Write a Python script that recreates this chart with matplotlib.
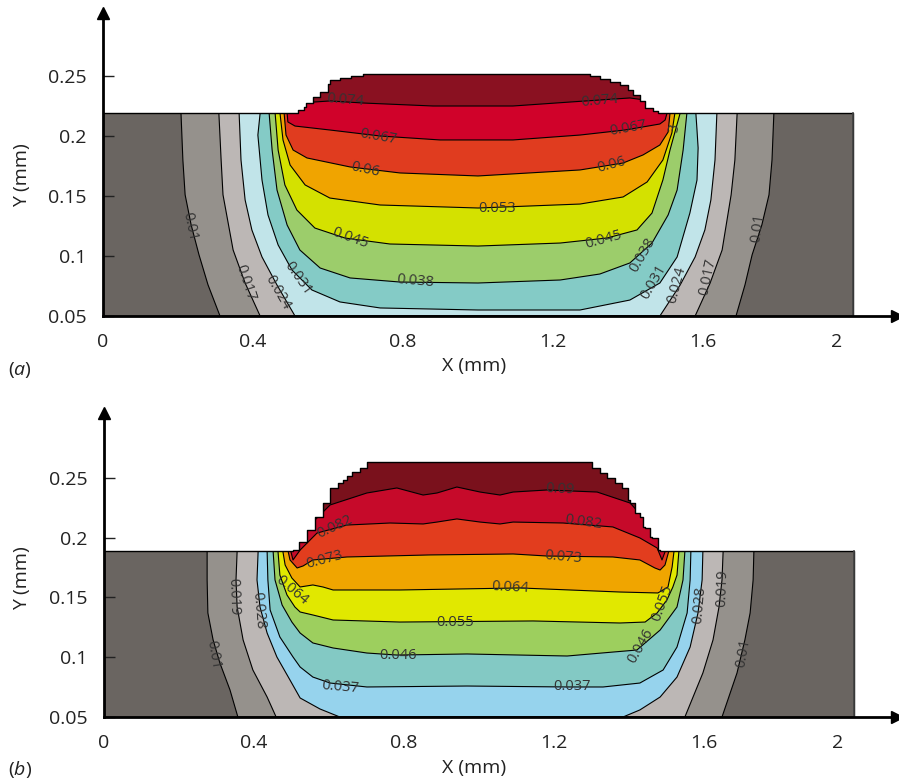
import numpy as np
import matplotlib.pyplot as plt
from matplotlib.patches import Polygon

plt.rcParams['font.family'] = ['Open Sans', 'DejaVu Sans']
plt.rcParams['mathtext.fontset'] = 'custom'
plt.rcParams['mathtext.it'] = 'Open Sans:italic'
plt.rcParams['mathtext.rm'] = 'Open Sans'

# ---------------- panel (a) ----------------
a_levels = [0.01, 0.017, 0.024, 0.031, 0.038, 0.045, 0.053, 0.06, 0.067, 0.074]
a_colors = ['#6a6561', '#95918c', '#bcb7b5', '#c1e4e9', '#84cbc6', '#9ccd6b',
            '#d4e100', '#f0a400', '#e03c1f', '#d0022a', '#8a1121']
a_surface = 0.219
a_bead_x = [0.52, 0.52, 0.536, 0.536, 0.541, 0.541, 0.56, 0.56, 0.579, 0.579, 0.6, 0.6,
            0.605, 0.605, 0.632, 0.632, 0.66, 0.66, 0.693, 0.693,
            1.299, 1.299, 1.325, 1.325, 1.352, 1.352, 1.379, 1.379, 1.4, 1.4, 1.413, 1.413,
            1.432, 1.432, 1.445, 1.445, 1.467, 1.467, 1.48, 1.48]
a_bead_y = [0.219, 0.2217, 0.2217, 0.2242, 0.2242, 0.2275, 0.2275, 0.2325, 0.2325, 0.2367, 0.2367, 0.2433,
            0.2433, 0.2467, 0.2467, 0.2483, 0.2483, 0.25, 0.25, 0.2517,
            0.2517, 0.25, 0.25, 0.2475, 0.2475, 0.245, 0.245, 0.2425, 0.2425, 0.2383, 0.2383, 0.2342,
            0.2342, 0.2292, 0.2292, 0.2233, 0.2233, 0.2208, 0.2208, 0.219]
a_cx = [
    [0.208, 0.213, 0.219, 0.235, 0.256, 0.28, 0.312, 1.688, 1.712, 1.731, 1.757, 1.776, 1.784, 1.789],
    [0.309, 0.315, 0.32, 0.347, 0.379, 0.419, 1.579, 1.619, 1.651, 1.675, 1.685, 1.691],
    [0.363, 0.368, 0.379, 0.397, 0.424, 0.464, 0.512, 1.485, 1.539, 1.579, 1.605, 1.621, 1.632, 1.637],
    [0.419, 0.413, 0.424, 0.44, 0.467, 0.504, 0.557, 0.632, 0.739, 1.0, 1.272, 1.405, 1.485, 1.531,
     1.565, 1.584, 1.587, 1.584, 1.581],
    [0.443, 0.451, 0.464, 0.491, 0.525, 0.579, 0.659, 0.792, 1.0, 1.219, 1.325, 1.405, 1.464, 1.507,
     1.531, 1.547, 1.557],
    [0.459, 0.467, 0.485, 0.517, 0.565, 0.645, 0.765, 1.0, 1.219, 1.344, 1.424, 1.464, 1.493, 1.512, 1.539],
    [0.472, 0.48, 0.499, 0.539, 0.605, 0.739, 1.0, 1.272, 1.387, 1.451, 1.493, 1.517, 1.525],
    [0.483, 0.488, 0.507, 0.544, 0.659, 0.792, 1.0, 1.272, 1.387, 1.44, 1.485, 1.507, 1.512],
    [0.491, 0.493, 0.512, 0.605, 0.739, 0.899, 1.093, 1.272, 1.392, 1.485, 1.499, 1.504],
    [0.525, 0.605, 0.693, 0.88, 1.093, 1.245, 1.405, 1.445],
]
a_cy = [
    [0.219, 0.18, 0.151, 0.126, 0.101, 0.076, 0.05, 0.05, 0.076, 0.101, 0.126, 0.151, 0.18, 0.219],
    [0.219, 0.18, 0.151, 0.105, 0.0775, 0.05, 0.05, 0.0775, 0.105, 0.151, 0.18, 0.219],
    [0.219, 0.18, 0.1467, 0.1217, 0.0992, 0.0758, 0.05, 0.05, 0.0758, 0.0992, 0.1217, 0.1467, 0.18, 0.219],
    [0.219, 0.2008, 0.1633, 0.1342, 0.1092, 0.0883, 0.0717, 0.0617, 0.0567, 0.055, 0.055, 0.0633, 0.0775,
     0.0992, 0.1358, 0.1633, 0.19, 0.205, 0.219],
    [0.219, 0.1883, 0.155, 0.1258, 0.105, 0.09, 0.0817, 0.0783, 0.0775, 0.08, 0.085, 0.0942, 0.1108, 0.1342,
     0.155, 0.1883, 0.219],
    [0.219, 0.1883, 0.1592, 0.1383, 0.1233, 0.115, 0.11, 0.1083, 0.1108, 0.115, 0.1217, 0.1358, 0.1633,
     0.1883, 0.219],
    [0.219, 0.1967, 0.1758, 0.1592, 0.1483, 0.1425, 0.14, 0.1433, 0.1492, 0.1617, 0.18, 0.2025, 0.219],
    [0.219, 0.2008, 0.1883, 0.1817, 0.1742, 0.1692, 0.1667, 0.1717, 0.1775, 0.1842, 0.1925, 0.2033, 0.219],
    [0.219, 0.2117, 0.2083, 0.205, 0.2, 0.1967, 0.1967, 0.2008, 0.205, 0.21, 0.2133, 0.219],
    [0.2275, 0.2292, 0.2275, 0.225, 0.225, 0.2283, 0.2317, 0.23],
]
a_lab_txt = ['0.074', '0.074', '0.067', '0.067', '0.06', '0.06', '0.053', '3', '0.045', '0.045',
             '0.038', '0.038', '0.031', '0.031', '0.024', '0.024', '0.017', '0.017', '0.01', '0.01']
a_lab_x = [0.645, 1.325, 0.733, 1.4, 0.699, 1.357, 1.051, 1.523, 0.659, 1.336,
           0.832, 1.44, 0.52, 1.467, 0.467, 1.531, 0.379, 1.613, 0.232, 1.747]
a_lab_y = [0.23, 0.2292, 0.1992, 0.2067, 0.1717, 0.1758, 0.14, 0.2067, 0.115, 0.1133,
           0.0792, 0.1008, 0.0817, 0.0783, 0.0692, 0.0758, 0.0775, 0.0825, 0.1242, 0.1233]
a_lab_rot = [-5, 5, -10, 10, -12, 15, 0, 80, -20, 15,
             -5, 60, -55, 60, -60, 75, -72, 78, -78, 82]

# ---------------- panel (b) ----------------
b_levels = [0.01, 0.019, 0.028, 0.037, 0.046, 0.055, 0.064, 0.073, 0.082, 0.09]
b_colors = ['#6a6561', '#95918c', '#bcb7b5', '#96d3ed', '#83c9c4', '#9dcf5e',
            '#e1e800', '#f0a500', '#e23d1e', '#c60a2a', '#7a111c']
b_surface = 0.1885
b_bead_x = [0.504, 0.504, 0.52, 0.52, 0.541, 0.541, 0.563, 0.563, 0.584, 0.584, 0.603, 0.603,
            0.624, 0.624, 0.637, 0.637, 0.648, 0.648, 0.661, 0.661, 0.683, 0.683, 0.701, 0.701,
            1.301, 1.301, 1.323, 1.323, 1.341, 1.341, 1.363, 1.363, 1.381, 1.381, 1.397, 1.397,
            1.403, 1.403, 1.416, 1.416, 1.429, 1.429, 1.437, 1.437, 1.443, 1.443, 1.456, 1.456,
            1.461, 1.461, 1.477, 1.477, 1.483, 1.483]
b_bead_y = [0.1885, 0.1896, 0.1896, 0.1963, 0.1963, 0.2064, 0.2064, 0.2172, 0.2172, 0.2289, 0.2289, 0.2415,
            0.2415, 0.2457, 0.2457, 0.2482, 0.2482, 0.2515, 0.2515, 0.2549, 0.2549, 0.2582, 0.2582, 0.2632,
            0.2632, 0.2582, 0.2582, 0.254, 0.254, 0.2498, 0.2498, 0.2457, 0.2457, 0.2415, 0.2415, 0.2314,
            0.2314, 0.2289, 0.2289, 0.2206, 0.2206, 0.2172, 0.2172, 0.2089, 0.2089, 0.208, 0.208, 0.2005,
            0.2005, 0.1997, 0.1997, 0.1896, 0.1896, 0.1885]
b_cx = [
    [0.275, 0.275, 0.277, 0.291, 0.309, 0.336, 0.357, 1.648, 1.688, 1.709, 1.723, 1.731, 1.733],
    [0.355, 0.352, 0.355, 0.371, 0.397, 0.435, 0.459, 1.549, 1.597, 1.624, 1.64, 1.648, 1.651],
    [0.411, 0.408, 0.416, 0.435, 0.461, 0.496, 0.523, 0.576, 0.629, 1.384, 1.429, 1.483, 1.528, 1.563,
     1.584, 1.595, 1.597],
    [0.435, 0.437, 0.443, 0.469, 0.504, 0.523, 0.557, 0.603, 0.701, 0.968, 1.235, 1.331, 1.429, 1.491,
     1.528, 1.555, 1.563, 1.565],
    [0.451, 0.456, 0.475, 0.501, 0.523, 0.557, 0.611, 0.701, 0.781, 0.968, 1.235, 1.357, 1.421, 1.483,
     1.528, 1.544, 1.549],
    [0.464, 0.469, 0.488, 0.509, 0.523, 0.557, 0.611, 0.789, 1.144, 1.376, 1.443, 1.475, 1.501, 1.517,
     1.528, 1.533],
    [0.477, 0.483, 0.501, 0.523, 0.557, 0.584, 0.611, 0.789, 1.109, 1.376, 1.477, 1.504, 1.515, 1.52],
    [0.491, 0.496, 0.515, 0.531, 0.557, 0.648, 0.869, 1.091, 1.181, 1.357, 1.429, 1.469, 1.483, 1.496, 1.506],
    [0.496, 0.504, 0.523, 0.568, 0.648, 0.763, 0.851, 0.888, 0.941, 1.003, 1.056, 1.091, 1.224, 1.357,
     1.429, 1.475, 1.488, 1.499],
    [0.512, 0.549, 0.603, 0.701, 0.781, 0.851, 0.888, 0.941, 1.003, 1.056, 1.091, 1.181, 1.315, 1.403,
     1.437, 1.464],
]
b_cy = [
    [0.1885, 0.1646, 0.137, 0.1144, 0.0952, 0.0726, 0.05, 0.05, 0.0868, 0.1144, 0.137, 0.1646, 0.1885],
    [0.1885, 0.1646, 0.142, 0.1144, 0.0893, 0.0667, 0.05, 0.05, 0.0868, 0.1144, 0.142, 0.1646, 0.1885],
    [0.1885, 0.1646, 0.142, 0.1202, 0.1002, 0.0809, 0.0659, 0.0567, 0.05, 0.05, 0.0559, 0.0667, 0.0834,
     0.1085, 0.137, 0.1646, 0.1885],
    [0.1885, 0.1646, 0.1395, 0.1169, 0.1002, 0.0918, 0.0834, 0.0784, 0.0751, 0.0759, 0.0751, 0.0751,
     0.0784, 0.0893, 0.1085, 0.137, 0.1646, 0.1885],
    [0.1885, 0.1646, 0.1436, 0.1294, 0.1202, 0.1119, 0.1077, 0.1035, 0.1018, 0.1027, 0.101, 0.1043,
     0.106, 0.1227, 0.142, 0.1646, 0.1885],
    [0.1885, 0.1687, 0.152, 0.142, 0.1378, 0.1353, 0.1311, 0.1294, 0.1303, 0.1286, 0.1294, 0.137, 0.1478,
     0.1587, 0.1687, 0.1885],
    [0.1885, 0.1771, 0.1662, 0.1587, 0.1604, 0.1587, 0.1562, 0.1562, 0.1579, 0.1545, 0.1537, 0.1587,
     0.1754, 0.1885],
    [0.1885, 0.1813, 0.1746, 0.1763, 0.1813, 0.1838, 0.1855, 0.1863, 0.1846, 0.1838, 0.1813, 0.1746,
     0.1729, 0.1771, 0.1885],
    [0.1913, 0.1813, 0.1896, 0.2038, 0.2105, 0.2122, 0.2114, 0.213, 0.2156, 0.213, 0.2114, 0.213, 0.2122,
     0.2089, 0.1997, 0.1913, 0.1813, 0.1905],
    [0.1938, 0.2105, 0.2273, 0.2373, 0.2415, 0.2356, 0.2373, 0.2423, 0.2381, 0.2356, 0.2381, 0.2398,
     0.2381, 0.2289, 0.2172, 0.2114],
]
b_lab_txt = ['0.09', '0.082', '0.082', '0.073', '0.073', '0.064', '0.064', '0.055', '0.055',
             '0.046', '0.046', '0.037', '0.037', '0.028', '0.028', '0.019', '0.019', '0.01', '0.01']
b_lab_x = [1.216, 0.616, 1.277, 0.589, 1.224, 0.501, 1.083, 0.936, 1.488,
           0.784, 1.432, 0.629, 1.248, 0.411, 1.589, 0.344, 1.648, 0.291, 1.704]
b_lab_y = [0.2406, 0.2089, 0.213, 0.1813, 0.1838, 0.1562, 0.1579, 0.1294, 0.1453,
           0.1018, 0.1094, 0.0751, 0.0751, 0.1395, 0.1436, 0.1503, 0.1579, 0.1018, 0.1035]
b_lab_rot = [-3, 25, -8, 15, -5, -40, -3, 0, 70,
             0, 60, -5, 0, -85, 85, -88, 88, -80, 80]

x_tick_pos = [0, 0.4, 0.8, 1.2, 1.6, 1.955]
x_tick_lab = ['0', '0.4', '0.8', '1.2', '1.6', '2']
y_tick_pos = [0.05, 0.1, 0.15, 0.2, 0.25]
y_tick_lab = ['0.05', '0.1', '0.15', '0.2', '0.25']


def draw_panel(ax, colors, surface, bead_x, bead_y, cx, cy, lab_txt, lab_x, lab_y, lab_rot, xmax, ymax):
    out_x = [0, 2.0, 2.0] + bead_x[::-1] + [0]
    out_y = [0.05, 0.05, surface] + bead_y[::-1] + [surface]
    dom = Polygon(np.column_stack([out_x, out_y]), closed=True, transform=ax.transData)
    ax.fill(out_x, out_y, color=colors[0], lw=0, zorder=1)
    for i in range(len(cx)):
        px = cx[i] + [cx[i][-1], cx[i][0]]
        py = cy[i] + [0.32, 0.32]
        p = ax.fill(px, py, color=colors[i + 1], lw=0, zorder=2)[0]
        p.set_clip_path(dom)
        ln, = ax.plot(cx[i], cy[i], color='k', lw=0.8, zorder=3)
        ln.set_clip_path(dom)
    ax.plot(out_x + [out_x[0]], out_y + [out_y[0]], color='k', lw=1.0, zorder=4)
    ax.plot([2.0, 2.0], [0.05, surface], color='#444444', lw=1.2, zorder=4)
    for t, x, y, r in zip(lab_txt, lab_x, lab_y, lab_rot):
        ax.text(x, y, t, rotation=r, rotation_mode='anchor', ha='center', va='center',
                fontsize=10.5, color='#333333', zorder=5)

    ax.set_xlim(0, xmax)
    ax.set_ylim(0.05, ymax)
    for s in ['top', 'right']:
        ax.spines[s].set_visible(False)
    for s in ['left', 'bottom']:
        ax.spines[s].set_linewidth(2)
        ax.spines[s].set_zorder(6)
    ax.plot([1], [0], marker='>', color='k', ms=9, transform=ax.transAxes, clip_on=False, zorder=7)
    ax.plot([0], [1], marker='^', color='k', ms=9, transform=ax.transAxes, clip_on=False, zorder=7)
    ax.set_xticks(x_tick_pos)
    ax.set_xticklabels(x_tick_lab)
    ax.set_xticks([0.4, 0.8, 1.2, 1.6], minor=True)
    ax.tick_params(axis='x', which='major', length=0, pad=12, labelsize=14, colors='#222222')
    ax.tick_params(axis='x', which='minor', direction='in', length=8, width=1, colors='#222222')
    ax.set_yticks(y_tick_pos)
    ax.set_yticklabels(y_tick_lab)
    ax.tick_params(axis='y', direction='in', length=8, width=1, pad=12, labelsize=14, colors='#222222')
    ax.set_facecolor('none')


fig = plt.figure(figsize=(8.99, 7.8), dpi=100)
ax1 = fig.add_axes([103 / 899, 1 - 316 / 780, 794 / 899, 303 / 780])
draw_panel(ax1, a_colors, a_surface, a_bead_x, a_bead_y, a_cx, a_cy,
           a_lab_txt, a_lab_x, a_lab_y, a_lab_rot, 794 / 375, 0.05 + 303 / 1200)
ax2 = fig.add_axes([104 / 899, 1 - 717 / 780, 793 / 899, 304 / 780])
draw_panel(ax2, b_colors, b_surface, b_bead_x, b_bead_y, b_cx, b_cy,
           b_lab_txt, b_lab_x, b_lab_y, b_lab_rot, 793 / 375, 0.05 + 304 / 1196)

fig.text(474 / 899, 1 - 366 / 780, 'X (mm)', ha='center', va='center', fontsize=14, color='#222222')
fig.text(474 / 899, 1 - 768 / 780, 'X (mm)', ha='center', va='center', fontsize=14, color='#222222')
fig.text(22 / 899, 1 - 175 / 780, 'Y (mm)', rotation=90, ha='center', va='center', fontsize=14, color='#222222')
fig.text(22 / 899, 1 - 578 / 780, 'Y (mm)', rotation=90, ha='center', va='center', fontsize=14, color='#222222')
fig.text(20 / 899, 1 - 370 / 780, r'($\mathit{a}$)', ha='center', va='center', fontsize=14, color='#222222')
fig.text(20 / 899, 1 - 770 / 780, r'($\mathit{b}$)', ha='center', va='center', fontsize=14, color='#222222')

fig.savefig('out.png', dpi=100)
